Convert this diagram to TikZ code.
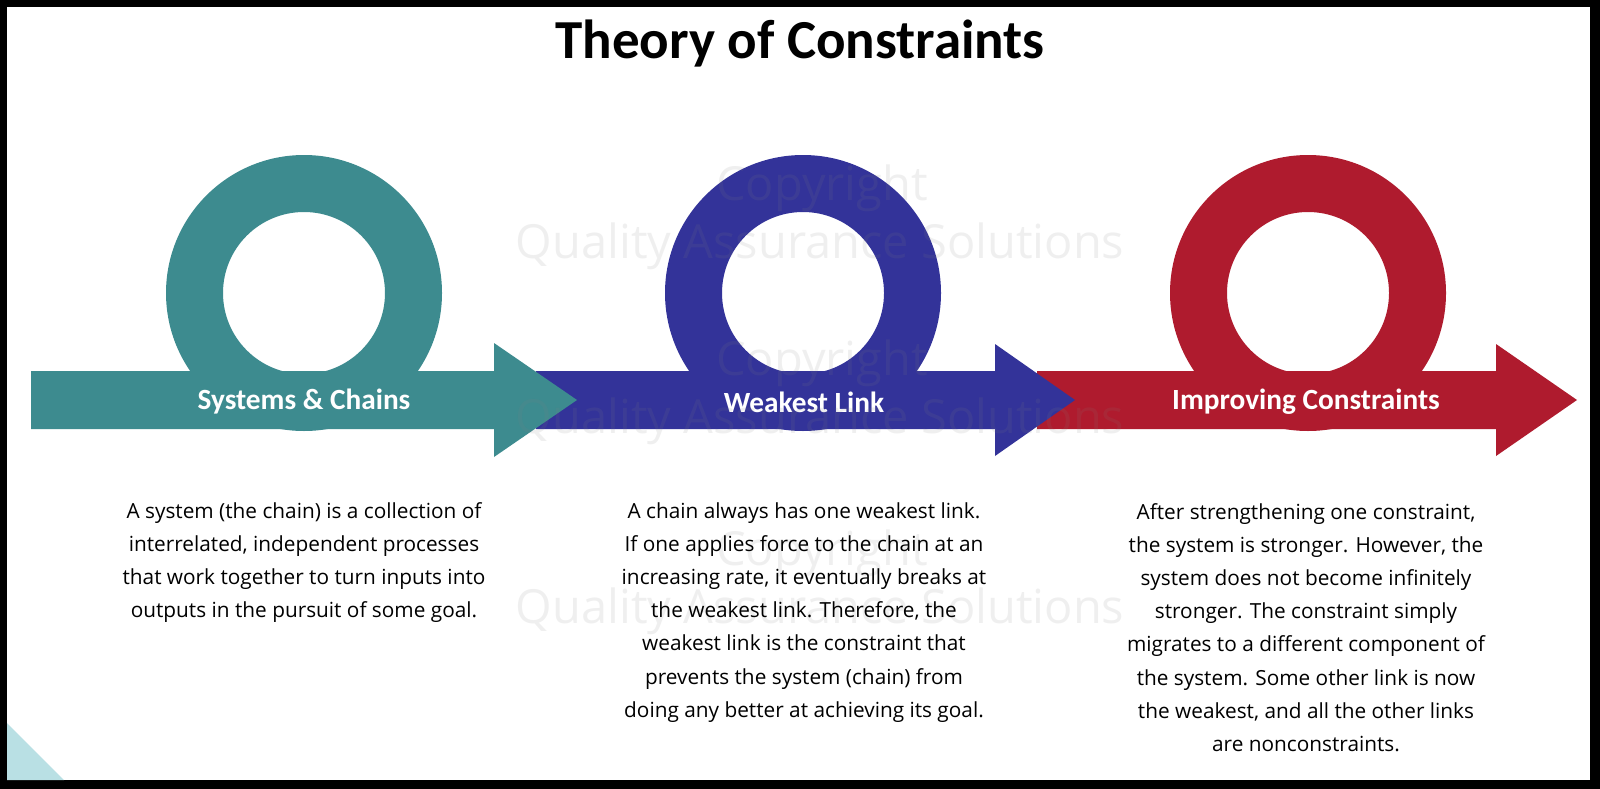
\documentclass[tikz,border=0pt]{standalone}
\usepackage{fontspec}
\setmainfont{Open Sans}
\newfontfamily\calfont{Carlito}
\usepackage{tikz}

\definecolor{chainteal}{RGB}{61,139,143}
\definecolor{linkblue}{RGB}{51,51,153}
\definecolor{fixred}{RGB}{175,27,46}
\definecolor{cornercyan}{RGB}{185,224,228}

\begin{document}
\begin{tikzpicture}[x=1pt,y=-1pt,
    labeltext/.style={text=white, inner sep=0pt, font=\calfont\bfseries\fontsize{29.3}{34}\selectfont},
    bodytext/.style={align=center, anchor=north, inner sep=0pt, font=\fontsize{20.8}{33.2}\selectfont},
    watermark/.style={text=gray, opacity=0.12, inner sep=0pt, font=\fontsize{47}{56}\selectfont}]
    \useasboundingbox (0,0) rectangle (1600,789);
    \fill[black] (0,0) rectangle (1600,789);
    \fill[white] (7,7) rectangle (1590,780);
    \fill[cornercyan] (7,723) -- (64,780) -- (7,780) -- cycle;

    \node[font=\calfont\bfseries\fontsize{55}{64}\selectfont, inner sep=0pt] (title) at (800,44) {Theory of Constraints};

    % rings
    \fill[chainteal, even odd rule] (304,293) circle (138pt) (304,293) circle (81pt);
    \fill[linkblue, even odd rule] (803,293) circle (138pt) (803,293) circle (81pt);
    \fill[fixred, even odd rule] (1308,293) circle (138pt) (1308,293) circle (81pt);

    % arrows, last one underneath
    \fill[fixred] (1037,371) -- (1496,371) -- (1496,344) -- (1577,400) -- (1496,456) -- (1496,429) -- (1037,429) -- cycle;
    \fill[linkblue] (536,371) -- (995,371) -- (995,344) -- (1075,400) -- (995,456) -- (995,429) -- (536,429) -- cycle;
    \fill[chainteal] (31,371) -- (494,371) -- (494,343) -- (577,400) -- (494,457) -- (494,429) -- (31,429) -- cycle;

    \node[labeltext] (systems) at (304,402) {Systems \& Chains};
    \node[labeltext] (weakest) at (804,402) {Weakest Link};
    \node[labeltext] (improving) at (1306,402) {Improving Constraints};

    \foreach \wy [count=\k] in {188,363,553} {
        \node[watermark] (copy\k) at (822,\wy) {Copyright};
        \node[watermark] (qas\k) at (820,\wy+58) {Quality Assurance Solutions};
    }

    \node[bodytext] (systemsText) at (304,502) {A system (the chain) is a collection of\\
        interrelated, independent processes\\
        that work together to turn inputs into\\
        outputs in the pursuit of some goal.};
    \node[bodytext] (weakestText) at (804,502) {A chain always has one weakest link.\\
        If one applies force to the chain at an\\
        increasing rate, it eventually breaks at\\
        the weakest link. Therefore, the\\
        weakest link is the constraint that\\
        prevents the system (chain) from\\
        doing any better at achieving its goal.};
    \node[bodytext] (improvingText) at (1306,503) {After strengthening one constraint,\\
        the system is stronger. However, the\\
        system does not become infinitely\\
        stronger. The constraint simply\\
        migrates to a different component of\\
        the system. Some other link is now\\
        the weakest, and all the other links\\
        are nonconstraints.};
\end{tikzpicture}
\end{document}
